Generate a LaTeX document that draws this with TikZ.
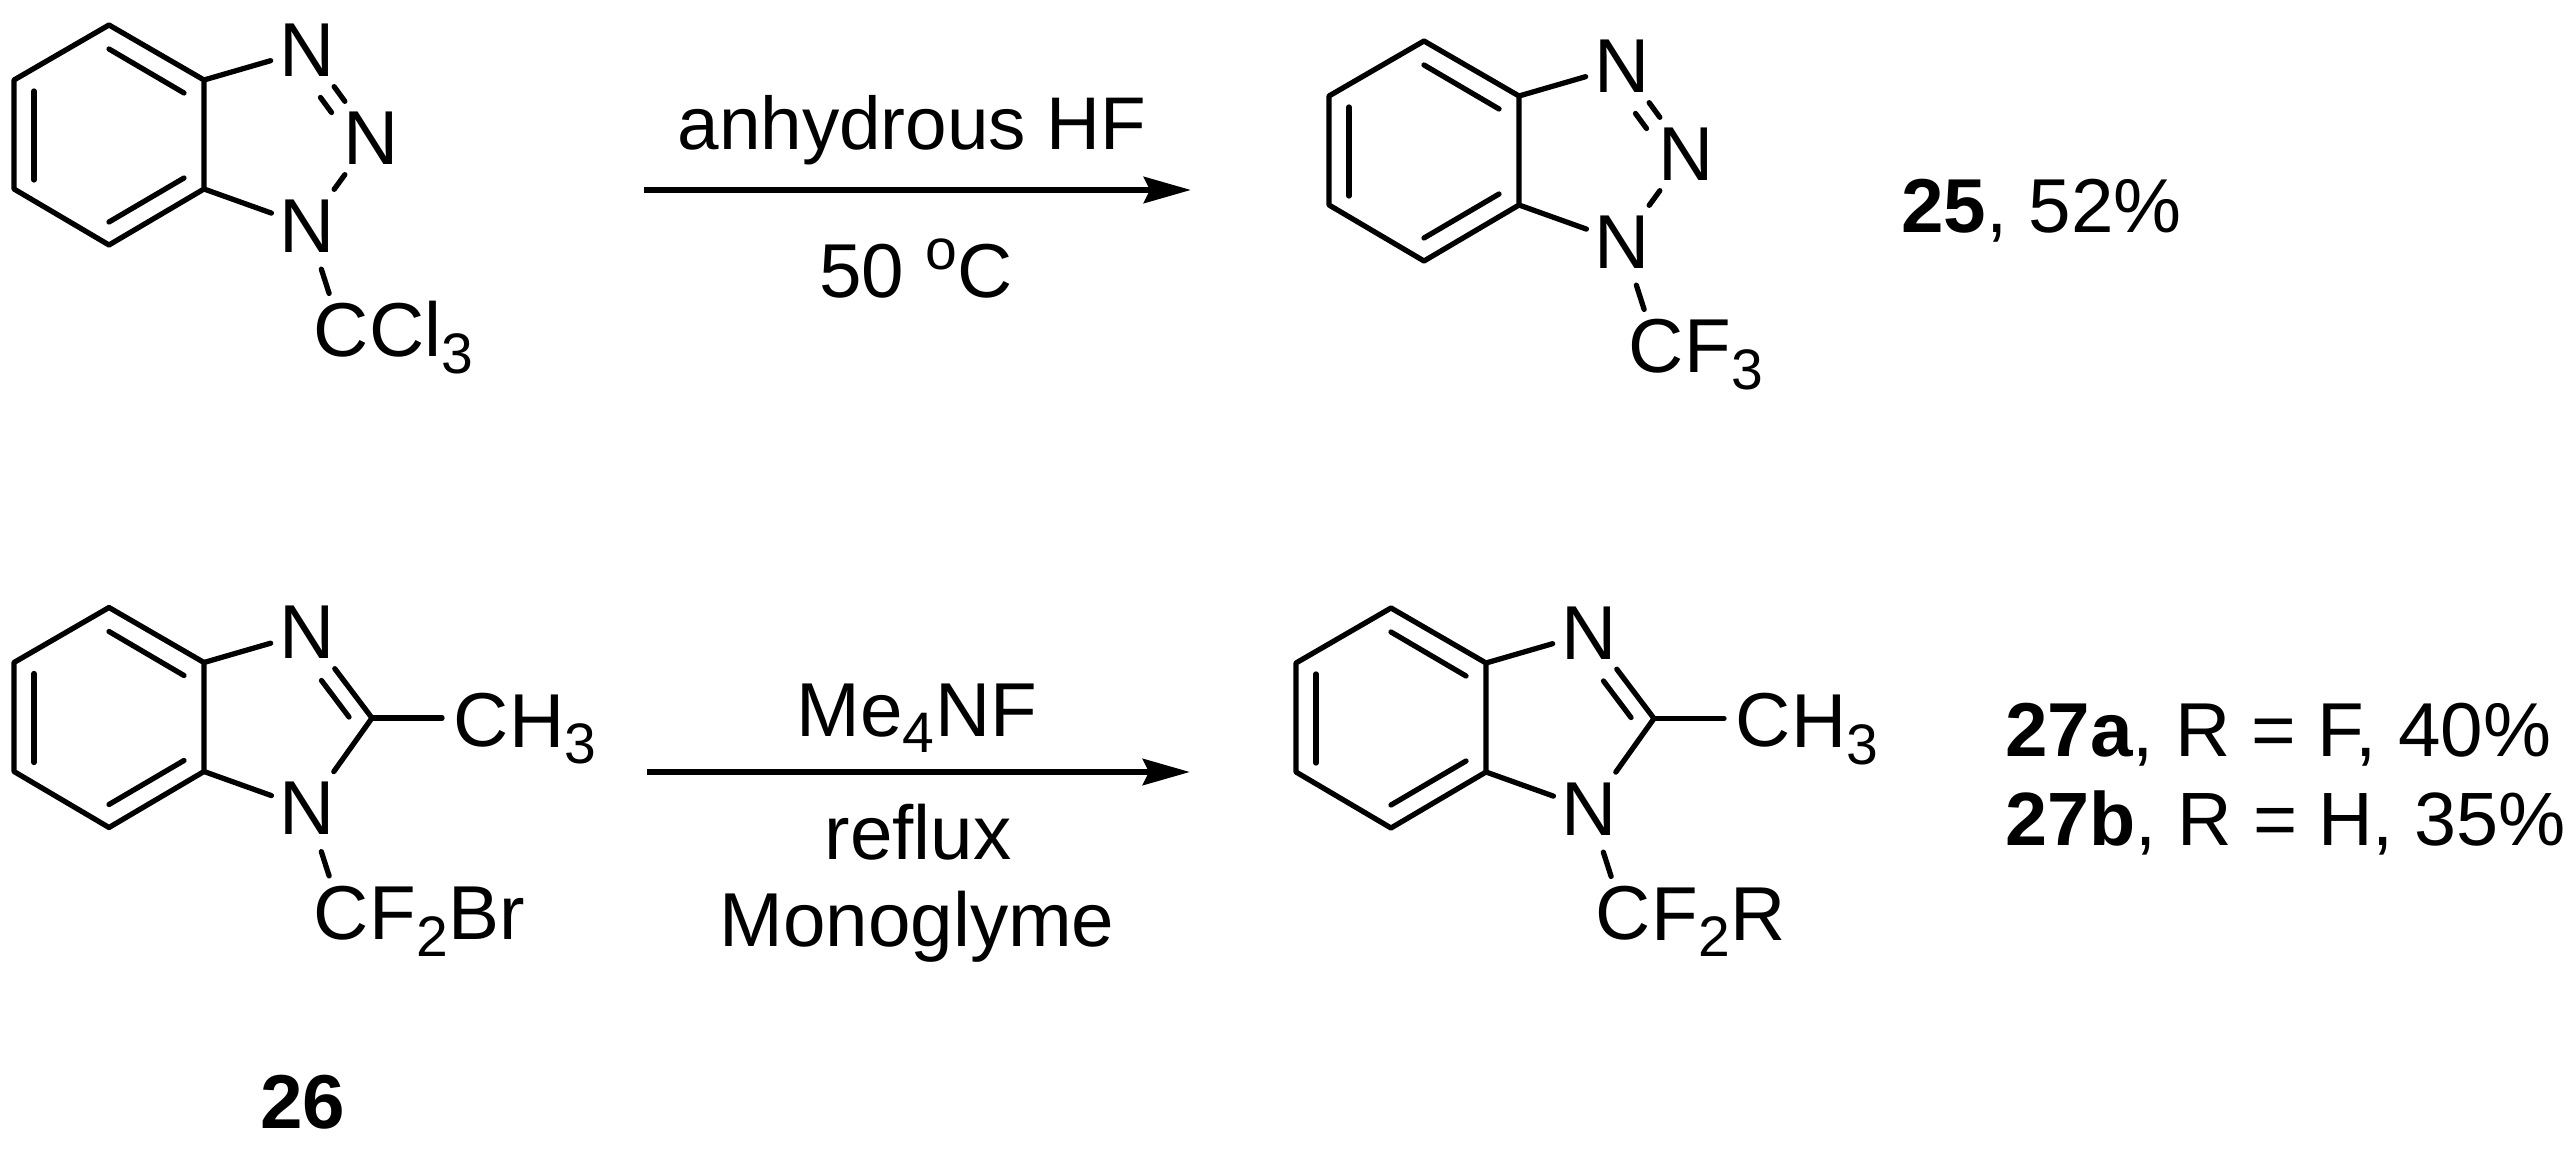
\documentclass[tikz,border=0pt]{standalone}
\usepackage{fontspec}
\setmainfont{Liberation Sans}
\usetikzlibrary{arrows.meta}

\newcommand{\subs}[1]{\raisebox{-9.6pt}{\fontsize{32.5}{33}\selectfont #1}\kern0.5pt}
\newcommand{\sups}[1]{\raisebox{16.5pt}{\fontsize{32.5}{33}\selectfont #1}}

\begin{document}
\begin{tikzpicture}[x=0.02cm,y=-0.02cm,
	bond/.style={line width=3pt,line cap=round,line join=round},
	nbond/.style={bond,shorten <=0.14cm,shorten >=0.14cm},
	atom/.style={circle,inner sep=0pt,minimum size=1.52cm,font=\fontsize{43.5}{52}\selectfont},
	txt/.style={anchor=base,inner sep=0pt,font=\fontsize{43.5}{52}\selectfont},
	tail/.style={txt,anchor=base west},
	rxn/.style={line width=3.7pt,-{Stealth[length=0.94cm,width=0.52cm,inset=0.12cm]}}]

	\useasboundingbox (0,0) rectangle (2576,1151);

	% the benzene ring with its two N atoms and the N substituent, all four molecules
	\foreach \mx/\my/\m/\rest in {0/0/a/{Cl\subs{3}},1315/16/b/{F\subs{3}},0/582.5/c/{F\subs{2}Br},1282/583/d/{F\subs{2}R}} {
		\begin{scope}[shift={(\mx,\my)}]
			\draw[bond] (109,25) coordinate (r1\m) -- (204,80) coordinate (r2\m) -- (204,189) coordinate (r3\m) -- (109,245) coordinate (r4\m) -- (14,189) coordinate (r5\m) -- (14,80) coordinate (r6\m) -- cycle;
			\draw[bond] (109,49) coordinate (d1\m) -- (184,93) coordinate (d2\m);
			\draw[bond] (34,91) coordinate (d3\m) -- (34,180) coordinate (d4\m);
			\draw[bond] (109,222) coordinate (d5\m) -- (184,178) coordinate (d6\m);

			\node[atom] (n1\m) at (307.5,50) {N};
			\node[atom] (n3\m) at (307.5,226) {N};
			\node[atom] (cx\m) at (341,330.5) {C};
			\node[tail] (rest\m) at (369,357) {\rest};

			\draw[bond] (r2\m) -- (n1\m);
			\draw[bond] (r3\m) -- (n3\m);
			\draw[bond,shorten <=0.14cm] (n3\m) -- (cx\m);
		\end{scope}
	}

	% triazole part, top row
	\foreach \mx/\my/\m in {0/0/a,1315/16/b} {
		\begin{scope}[shift={(\mx,\my)}]
			\node[atom] (n2\m) at (371.5,138) {N};
			\coordinate (e1\m) at (320.5,97.5);
			\coordinate (e2\m) at (331.5,112.5);
			\draw[nbond] (n1\m) -- (n2\m);
			\draw[bond] (e1\m) -- (e2\m);
			\draw[nbond] (n2\m) -- (n3\m);
		\end{scope}
	}

	% imidazole part, bottom row
	\foreach \mx/\my/\m in {0/582.5/c,1282/583/d} {
		\begin{scope}[shift={(\mx,\my)}]
			\coordinate (c2\m) at (372,135.5);
			\coordinate (e1\m) at (321.5,98);
			\coordinate (e2\m) at (349,134.5);
			\node[atom] (me\m) at (481,137.5) {C};
			\node[tail] (h3\m) at (509,164.5) {H\subs{3}};
			\draw[bond,shorten <=0.14cm] (n1\m) -- (c2\m);
			\draw[bond] (e1\m) -- (e2\m);
			\draw[bond,shorten <=0.14cm] (n3\m) -- (c2\m);
			\draw[bond] (c2\m) -- (c2\m -| me\m.west);
		\end{scope}
	}

	% arrows and conditions
	\coordinate (a1s) at (644,190);
	\coordinate (a1e) at (1191,190);
	\coordinate (a2s) at (647,772);
	\coordinate (a2e) at (1190,772);
	\draw[rxn] (a1s) -- (a1e);
	\draw[rxn] (a2s) -- (a2e);

	\node[txt,font=\fontsize{42.5}{52}\selectfont] (hf) at (912,150) {anhydrous HF};
	\node[txt] (temp) at (916,298) {50 \sups{o}C};
	\node[txt] (fluoride) at (917,736) {Me\subs{4}NF};
	\node[txt] (reflux) at (918,859) {reflux};
	\node[txt] (solvent) at (917,946) {Monoglyme};

	% compound numbers
	\node[tail] (p25) at (1901,233) {\textbf{25}, 52\%};
	\node[txt] (p26) at (303,1128) {\textbf{26}};
	\node[tail] (p27a) at (2005,756) {\textbf{27a}, R = F, 40\%};
	\node[tail,font=\fontsize{43}{52}\selectfont] (p27b) at (2005,845.5) {\textbf{27b}, R = H, 35\%};

\end{tikzpicture}
\end{document}
